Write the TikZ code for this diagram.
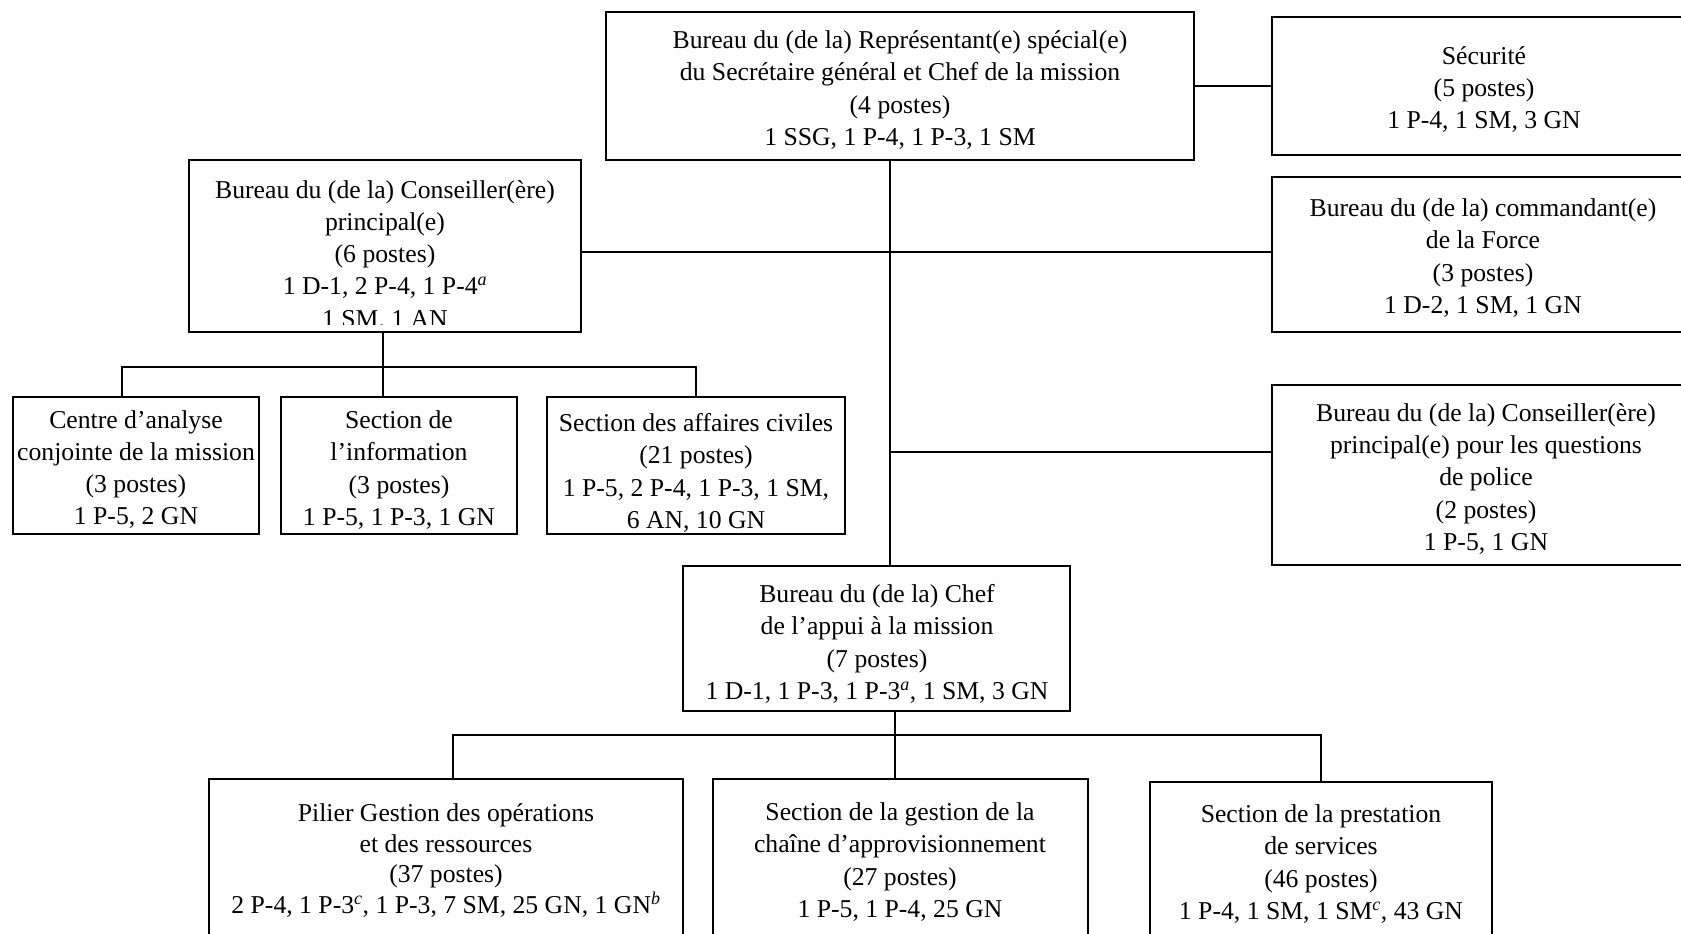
\documentclass[tikz,border=0pt]{standalone}
\usepackage{fontspec}
\setmainfont{Liberation Serif}
\begin{document}
\begin{tikzpicture}[x=1pt,y=-1pt,
  box/.style={draw, line width=2pt, rectangle, inner sep=0pt, outer sep=0pt},
  txt/.style={align=center, inner sep=0pt, font=\fontsize{25.7}{32.2}\selectfont},
  txtb/.style={align=center, inner sep=0pt, font=\fontsize{25.7}{30.6}\selectfont},
  link/.style={line width=2pt}]
\clip (0,0) rectangle (1681,934);
\fill[white] (0,0) rectangle (1681,934);
% boxes
\node[box, minimum width=588pt, minimum height=148pt] (srsg) at (900,86) {};
\node[box, minimum width=428pt, minimum height=138pt] (secu) at (1486,86) {};
\node[box, minimum width=428pt, minimum height=155pt] (cmd) at (1486,254.5) {};
\node[box, minimum width=428pt, minimum height=180pt] (pol) at (1486,475) {};
\node[box, minimum width=392pt, minimum height=172pt] (cons) at (385,246) {};
\node[box, minimum width=246pt, minimum height=137pt] (cen) at (136,465.5) {};
\node[box, minimum width=236pt, minimum height=137pt] (inf) at (399,465.5) {};
\node[box, minimum width=298pt, minimum height=137pt] (civ) at (696,465.5) {};
\node[box, minimum width=387pt, minimum height=145pt] (chef) at (876.5,638.5) {};
\node[box, minimum width=474pt, minimum height=181pt] (pil) at (446,869.5) {};
\node[box, minimum width=375pt, minimum height=181pt] (sup) at (900.5,869.5) {};
\node[box, minimum width=342pt, minimum height=178pt] (srv) at (1321,871) {};
% texts
\node[txt] (tsrsg) at (900,90) {Bureau du (de la) Représentant(e) spécial(e)\\du Secrétaire général et Chef de la mission\\(4 postes)\\1 SSG, 1 P-4, 1 P-3, 1 SM};
\node[txt] (tsecu) at (1484,89.5) {Sécurité\\(5 postes)\\1 P-4, 1 SM, 3 GN};
\node[txt] (tcmd) at (1483,258) {Bureau du (de la) commandant(e)\\de la Force\\(3 postes)\\1 D-2, 1 SM, 1 GN};
\node[txt] (tpol) at (1486,479) {Bureau du (de la) Conseiller(ère)\\principal(e) pour les questions\\de police\\(2 postes)\\1 P-5, 1 GN};
\begin{scope}
\clip (189,160) rectangle (581,324);
\node[txt] (tcons) at (385,254) {Bureau du (de la) Conseiller(ère)\\principal(e)\\(6 postes)\\1 D-1, 2 P-4, 1 P-4\textsuperscript{\textit{a}}\\1 SM. 1 AN};
\end{scope}
\node[txt] (tcen) at (136,469.5) {Centre d’analyse\\conjointe de la mission\\(3 postes)\\1 P-5, 2 GN};
\node[txt] (tinf) at (399,470) {Section de\\l’information\\(3 postes)\\1 P-5, 1 P-3, 1 GN};
\node[txt] (tciv) at (696,473) {Section des affaires civiles\\(21 postes)\\1 P-5, 2 P-4, 1 P-3, 1 SM,\\6 AN, 10 GN};
\node[txt] (tchef) at (877,644) {Bureau du (de la) Chef\\de l’appui à la mission\\(7 postes)\\1 D-1, 1 P-3, 1 P-3\textsuperscript{\textit{a}}, 1 SM, 3 GN};
\node[txtb] (tpil) at (446,860.5) {Pilier Gestion des opérations\\et des ressources\\(37 postes)\\2 P-4, 1 P-3\textsuperscript{\textit{c}}, 1 P-3, 7 SM, 25 GN, 1 GN\textsuperscript{\textit{b}}};
\node[txt] (tsup) at (900,862) {Section de la gestion de la\\chaîne d’approvisionnement\\(27 postes)\\1 P-5, 1 P-4, 25 GN};
\node[txt] (tsrv) at (1321,864) {Section de la prestation\\de services\\(46 postes)\\1 P-4, 1 SM, 1 SM\textsuperscript{\textit{c}}, 43 GN};
% connectors
\coordinate (trunk) at (890,160);
\coordinate (bus1) at (383,367);
\coordinate (bus2) at (895,735);
\draw[link] (srsg.east) -- (secu.west);
\draw[link] ([xshift=-10pt]srsg.south) -- ([xshift=13.5pt]chef.north);
\draw[link] ([yshift=2.5pt]cmd.west) -- ([yshift=2.5pt]cmd.west -| cons.east);
\draw[link] ([yshift=23pt]pol.west) -- ([yshift=23pt]pol.west -| trunk);
\draw[link] ([xshift=-2pt]cons.south) -- ([xshift=-16pt]inf.north);
\draw[link] ([xshift=-14pt]cen.north) |- (bus1) -| (civ.north);
\draw[link] ([xshift=18.5pt]chef.south) -- ([xshift=-5.5pt]sup.north);
\draw[link] ([xshift=7pt]pil.north) |- (bus2) -| (srv.north);
\end{tikzpicture}
\end{document}
